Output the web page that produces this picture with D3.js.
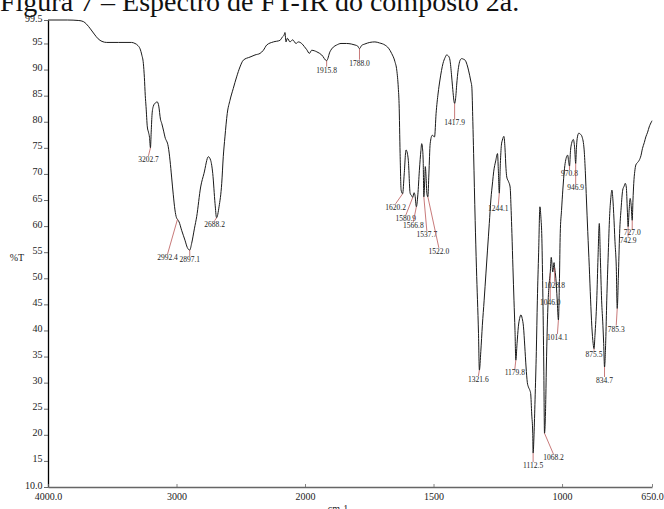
<!DOCTYPE html>
<html>
<head>
<meta charset="utf-8">
<script src="https://cdn.jsdelivr.net/npm/d3@7"></script>
<style>
  html, body { margin: 0; padding: 0; background: #fff; }
  svg { display: block; }
  text { font-family: "Liberation Serif", "Times New Roman", serif; }
</style>
</head>
<body>
<svg id="chart" width="664" height="509"></svg>
<script>
// ---------- data ----------
const title = "Figura 7 – Espectro de FT-IR do composto 2a.";
const yAxisLabel = "%T";
const xAxisLabel = "cm-1";

const wavenumbers = [
  4000, 3850, 3760, 3725, 3700, 3670, 3640, 3610, 3580, 3543, 3450, 3350, 3323, 3300, 3284, 3270, 3258, 3250, 3243, 3237,
  3227, 3218, 3210, 3202.7, 3197, 3190, 3180, 3165, 3150, 3138, 3125, 3115, 3100, 3090, 3064, 3050, 3038, 3025, 3012, 3000,
  2992.4, 2980, 2960, 2934, 2916, 2897.1, 2882, 2860, 2843, 2812, 2786, 2752, 2734, 2718, 2700, 2688.2, 2669, 2648, 2636, 2623,
  2605, 2584, 2558, 2532, 2506, 2480, 2428, 2389, 2350, 2324, 2298, 2246, 2195, 2174, 2163, 2156, 2148, 2137, 2117, 2096,
  2070, 2052, 2026, 2005, 1993, 1983, 1974, 1954, 1935, 1915.8, 1903, 1890, 1877, 1860, 1838, 1820, 1805, 1795, 1788.0, 1780,
  1767, 1748, 1728, 1710, 1689, 1675, 1663, 1650, 1643, 1637, 1634, 1630, 1626, 1620.2, 1614, 1607, 1602, 1598, 1591, 1585,
  1580.9, 1576, 1572, 1566.8, 1561, 1555, 1549, 1546, 1543, 1540, 1537.7, 1534, 1532, 1529, 1526, 1522.0, 1518, 1513, 1505, 1496,
  1490, 1482, 1475, 1463, 1455, 1449, 1442, 1436, 1430, 1426, 1417.9, 1413, 1410, 1404, 1400, 1394, 1390, 1384, 1377, 1370,
  1364, 1355, 1351, 1347, 1344, 1338, 1333, 1325, 1321.6, 1316, 1310, 1303, 1296, 1290, 1283, 1277, 1270, 1266, 1258, 1251,
  1248, 1244.1, 1240, 1236, 1232, 1226, 1222, 1218, 1215, 1208, 1202, 1198, 1195, 1191, 1187, 1183, 1179.8, 1175, 1170, 1165,
  1160, 1155, 1150, 1145, 1140, 1135, 1131, 1125, 1122, 1118, 1114, 1112.5, 1109, 1105, 1100, 1096, 1091, 1086, 1082, 1079,
  1075, 1071, 1068.2, 1064, 1061, 1054, 1050, 1046.0, 1042, 1036, 1031, 1028.8, 1024, 1019, 1014.1, 1010, 1007, 1002, 997, 988,
  978, 974, 970.8, 967, 963, 956, 951, 946.9, 944, 941, 935, 928, 922, 914, 909, 905, 900, 894, 889, 884,
  879, 875.5, 872, 865, 860, 855, 851, 846, 841, 838, 834.7, 830, 826, 820, 815, 810, 806, 802, 799, 794,
  789, 785.3, 781, 776, 770, 764, 758, 754, 750, 746, 742.9, 739, 735, 731, 727.0, 724, 721, 717, 713, 706,
  700, 693, 687, 680, 674, 667, 661, 652, 650
];
const transmittance = [
  99.5, 99.5, 99.4, 99.2, 98.7, 97.8, 96.8, 95.9, 95.4, 95.2, 95.2, 95.2, 95.0, 94.6, 94.0, 92.8, 91.2, 88.5, 85.0, 82.9,
  79.0, 78.0, 77.0, 75.0, 78.0, 81.5, 83.0, 83.6, 83.8, 83.0, 80.5, 79.7, 78.2, 77.1, 75.2, 72.5, 69.4, 66.0, 63.1, 61.6,
  61.3, 60.8, 59.2, 57.3, 55.9, 55.4, 56.7, 59.6, 61.8, 67.5, 70.1, 73.3, 72.6, 70.1, 64.3, 61.6, 63.7, 68.2, 73.3, 77.1,
  81.6, 84.1, 86.4, 88.6, 90.5, 91.8, 92.4, 92.8, 93.1, 93.7, 94.7, 95.3, 95.6, 96.3, 96.6, 97.1, 95.3, 96.0, 95.3, 95.7,
  95.0, 95.3, 95.0, 94.4, 93.8, 93.1, 93.7, 93.4, 92.8, 91.7, 93.4, 94.3, 94.7, 95.0, 95.0, 94.9, 94.7, 94.5, 94.0, 94.6,
  94.9, 95.2, 95.3, 95.1, 94.7, 94.1, 93.1, 91.5, 89.9, 86.5, 83.5, 73.9, 66.9, 66.2, 70.0, 74.6, 74.0, 72.6, 66.3, 65.8,
  65.5, 66.4, 65.9, 63.7, 66.0, 70.7, 74.5, 75.8, 75.0, 72.0, 65.6, 69.0, 71.4, 69.5, 66.3, 65.6, 70.0, 75.8, 77.4, 77.1,
  81.6, 85.5, 88.0, 91.2, 92.3, 92.8, 92.6, 91.8, 89.0, 86.7, 83.5, 85.0, 87.0, 90.0, 91.2, 92.0, 92.1, 92.0, 91.8, 91.0,
  89.9, 87.8, 86.7, 80.0, 73.9, 61.1, 52.0, 39.4, 32.4, 36.0, 41.0, 45.8, 51.0, 55.4, 60.5, 65.0, 68.5, 70.4, 72.5, 73.9,
  71.0, 66.3, 72.0, 75.5, 76.5, 77.2, 75.0, 71.0, 69.4, 68.5, 67.5, 63.0, 58.6, 52.0, 45.8, 40.0, 34.3, 37.5, 40.7, 42.3,
  43.0, 42.3, 40.7, 37.0, 33.0, 30.0, 29.2, 28.5, 27.9, 24.0, 20.3, 16.5, 20.0, 26.7, 36.0, 45.8, 55.0, 63.7, 61.5, 58.6,
  48.0, 33.0, 20.3, 25.0, 33.0, 45.8, 49.0, 51.0, 54.0, 51.2, 53.0, 52.0, 50.0, 46.0, 42.0, 50.0, 58.6, 63.0, 66.9, 72.0,
  73.6, 72.2, 71.5, 74.5, 75.8, 76.6, 75.0, 72.0, 75.0, 76.8, 77.8, 77.6, 77.1, 74.6, 70.0, 65.0, 59.0, 52.2, 46.0, 40.7,
  37.5, 36.5, 39.0, 45.8, 54.0, 60.5, 54.0, 45.8, 41.0, 37.5, 33.0, 38.0, 45.8, 55.0, 61.8, 65.5, 66.9, 65.0, 62.4, 57.0,
  52.2, 44.2, 50.0, 58.6, 63.5, 66.9, 67.7, 68.2, 67.5, 63.1, 59.9, 63.0, 65.3, 64.0, 61.1, 65.0, 68.2, 70.5, 71.7, 72.2,
  72.6, 73.5, 74.9, 76.0, 77.1, 78.0, 79.0, 80.0, 80.2
];

const peakWavenumbers = [
  3202.7, 2992.4, 2897.1, 2688.2, 1915.8, 1788.0, 1620.2, 1580.9, 1566.8, 1537.7, 1522.0, 1417.9, 1321.6, 1244.1,
  1179.8, 1112.5, 1068.2, 1046.0, 1028.8, 1014.1, 970.8, 946.9, 875.5, 834.7, 785.3, 742.9, 727.0
];

const yTickValues = [10, 15, 20, 25, 30, 35, 40, 45, 50, 55, 60, 65, 70, 75, 80, 85, 90, 95, 99.5];
const yTickLabels = ["10.0", "15", "20", "25", "30", "35", "40", "45", "50", "55", "60", "65", "70", "75", "80", "85", "90", "95", "99.5"];
const xTickValues = [4000, 3000, 2000, 1500, 1000, 650];
const xTickLabels = ["4000.0", "3000", "2000", "1500", "1000", "650.0"];

// ---------- layout (pixel offsets of peak labels from their peak) ----------
const labelOffsets = [
  [-2, 14], [-10, 41], [0, 12], [-2, 9], [0, 12], [0, 17], [-7, 16], [-7, 24], [-3, 21], [3, 40], [11, 57], [0, 22], [-1, 12], [-1, 18],
  [-1, 15], [0, 15], [9, 27], [0, 32], [0, 20], [-1, 20], [0, 10], [0, 27], [0, 8], [0, 16], [-1, 23], [0, 16], [0, 15]
];

// ---------- drawing ----------
const svg = d3.select("#chart");

// x scale with the usual FT-IR scale change at 2000 cm-1
const x = d3.scaleLinear().domain([4000, 2000, 650]).range([48, 305, 652]);
const y = d3.scaleLinear().domain([10, 99.5]).range([487, 20]);

// title (cut at the top edge as in the source)
svg.append("text")
  .attr("x", 0).attr("y", 11)
  .attr("font-size", 28)
  .attr("fill", "#111")
  .text(title);

// y axis
const yAxis = d3.axisLeft(y)
  .tickValues(yTickValues)
  .tickFormat((d, i) => yTickLabels[i])
  .tickSize(4).tickSizeOuter(0).tickPadding(1.5);
const gy = svg.append("g").attr("transform", "translate(48,0)").call(yAxis);
gy.select(".domain").attr("stroke", "#000").attr("stroke-width", 1.3);
gy.selectAll(".tick line").attr("stroke", "#444").attr("stroke-width", 0.8);
gy.selectAll(".tick text")
  .attr("font-family", "Liberation Serif, serif")
  .attr("font-size", 10).attr("fill", "#222").attr("dy", "0.1em");

// x axis
const xAxis = d3.axisBottom(x)
  .tickValues(xTickValues)
  .tickFormat((d, i) => xTickLabels[i])
  .tickSize(-3).tickSizeOuter(0).tickPadding(6);
const gx = svg.append("g").attr("transform", "translate(0,487)").call(xAxis);
gx.select(".domain").attr("stroke", "#666").attr("stroke-width", 1.6);
gx.selectAll(".tick line").attr("stroke", "#666").attr("stroke-width", 0.8);
gx.selectAll(".tick text")
  .attr("font-family", "Liberation Serif, serif")
  .attr("font-size", 10).attr("fill", "#222");

// axis titles
svg.append("text")
  .attr("x", 17).attr("y", 261)
  .attr("text-anchor", "middle")
  .attr("font-size", 10).attr("fill", "#222")
  .text(yAxisLabel);
svg.append("text")
  .attr("x", 338).attr("y", 512)
  .attr("text-anchor", "middle")
  .attr("font-size", 10).attr("fill", "#222")
  .text(xAxisLabel);

// spectrum
const pts = wavenumbers.map((w, i) => [w, transmittance[i]]);
const line = d3.line().x(d => x(d[0])).y(d => y(d[1])).curve(d3.curveMonotoneX);
svg.append("path")
  .datum(pts)
  .attr("d", line)
  .attr("fill", "none")
  .attr("stroke", "#1a1a1a")
  .attr("stroke-width", 1)
  .attr("stroke-linejoin", "round");

// peak labels with leader lines
const peaks = peakWavenumbers.map((w, i) => {
  const idx = wavenumbers.indexOf(w);
  return { w, t: transmittance[idx], off: labelOffsets[i] };
});
const g = svg.append("g");
peaks.forEach(p => {
  const px = x(p.w), py = y(p.t);
  const lx = px + p.off[0], ly = py + p.off[1];
  g.append("line")
    .attr("x1", px).attr("y1", py)
    .attr("x2", lx).attr("y2", Math.max(py, ly - 6))
    .attr("stroke", "#b04040").attr("stroke-width", 0.7);
  g.append("text")
    .attr("x", lx).attr("y", ly)
    .attr("text-anchor", "middle")
    .attr("font-size", 7.5).attr("fill", "#222")
    .text(p.w.toFixed(1));
});
</script>
</body>
</html>
